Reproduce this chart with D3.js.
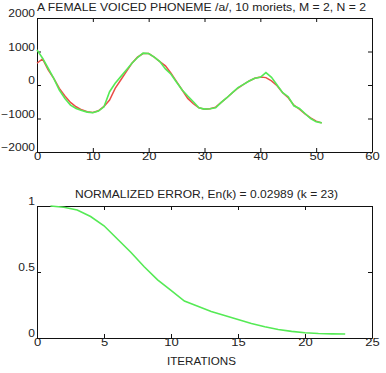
<!DOCTYPE html>
<html lang="en">
<head>
    <meta charset="UTF-8">
    <script src="https://cdnjs.cloudflare.com/ajax/libs/d3/7.8.5/d3.min.js"></script>
    <title>Phoneme moriets</title>
    <style>
        body { margin: 0; background: #fff; }
        svg text { font-family: "Liberation Sans", Arial, sans-serif; fill: #222; }
    </style>
</head>
<body>
<div id="plot"></div>
<script>
    // top panel: original signal (green) and moriet approximation (red)
    var sampleIdx = d3.range(0, 52);
    var signalVals = [1050, 800, 500, 200, -150, -400, -600, -700, -760, -810,
        -830, -780, -650, -200, 50, 250, 450, 650, 820, 950,
        940, 830, 700, 480, 320, 80, -150, -330, -500, -680,
        -720, -710, -680, -520, -380, -230, -80, 20, 120, 200,
        230, 370, 230, 0, -230, -350, -620, -700, -850, -1000,
        -1100, -1130];
    var approxVals = [650, 780, 450, 200, -100, -330, -520, -650, -740, -800,
        -820, -770, -640, -450, -100, 150, 400, 650, 830, 940,
        940, 830, 700, 570, 350, 100, -150, -400, -560, -680,
        -720, -710, -660, -520, -380, -230, -90, 20, 120, 200,
        240, 220, 120, -20, -230, -380, -600, -720, -860, -980,
        -1080, -1130];
    var topXTicks = [0, 10, 20, 30, 40, 50, 60];
    var topYTicks = [-2000, -1000, 0, 1000, 2000];

    // bottom panel: normalized error per iteration
    var iterations = d3.range(1, 24);
    var errorVals = [1.0, 0.99, 0.97, 0.92, 0.85, 0.75, 0.65, 0.54, 0.44, 0.36,
        0.28, 0.24, 0.20, 0.17, 0.14, 0.11, 0.085, 0.065, 0.05, 0.04,
        0.034, 0.031, 0.03];
    var botXTicks = [0, 5, 10, 15, 20, 25];
    var botYTicks = [0, 0.5, 1];
    var botYLabels = ["0", "0.5", "1"];

    var W = 386, H = 373;
    var svg = d3.select("#plot").append("svg")
        .attr("width", W).attr("height", H);

    // the scanned figure has wide, stretched lettering
    function stretch(sel, k) {
        sel.each(function () {
            var w = this.getComputedTextLength();
            d3.select(this).attr("textLength", w * k).attr("lengthAdjust", "spacingAndGlyphs");
        });
    }

    function panel(box, xDom, yDom, xTicks, yTicks, yFmt) {
        var x = d3.scaleLinear().domain(xDom).range([box.left, box.right]);
        var y = d3.scaleLinear().domain(yDom).range([box.bottom, box.top]);
        var g = svg.append("g");
        // bottom
        g.append("g").attr("transform", "translate(0," + box.bottom + ")")
            .call(d3.axisBottom(x).tickValues(xTicks).tickSizeInner(-4).tickSizeOuter(0).tickPadding(1))
            .call(a => a.selectAll("text").attr("font-size", 10).attr("fill", "#222").call(stretch, 1.3));
        // top mirror
        g.append("g").attr("transform", "translate(0," + box.top + ")")
            .call(d3.axisTop(x).tickValues(xTicks).tickSizeInner(-4).tickSizeOuter(0).tickFormat(""));
        // left
        g.append("g").attr("transform", "translate(" + box.left + ",0)")
            .call(d3.axisLeft(y).tickValues(yTicks).tickSizeInner(-4).tickSizeOuter(0).tickPadding(2).tickFormat(yFmt))
            .call(a => a.selectAll("text").attr("font-size", 10).attr("fill", "#222").attr("dy", "-0.12em").call(stretch, 1.2));
        // right mirror
        g.append("g").attr("transform", "translate(" + box.right + ",0)")
            .call(d3.axisRight(y).tickValues(yTicks).tickSizeInner(-4).tickSizeOuter(0).tickFormat(""));
        g.selectAll(".domain").attr("stroke", "#111");
        g.selectAll(".tick line").attr("stroke", "#111");
        return { x: x, y: y };
    }

    // top panel
    var p1 = panel({ left: 37, right: 372, top: 18, bottom: 152 }, [0, 60], [-2000, 2000],
        topXTicks, topYTicks, d3.format("d"));
    var line1 = d3.line().x((d, i) => p1.x(sampleIdx[i])).y(d => p1.y(d));
    svg.append("path").datum(approxVals).attr("d", line1)
        .attr("fill", "none").attr("stroke", "#ea4e48").attr("stroke-width", 1.5);
    svg.append("path").datum(signalVals).attr("d", line1)
        .attr("fill", "none").attr("stroke", "#55ea55").attr("stroke-width", 1.6);
    svg.append("text").attr("x", 201.5).attr("y", 11).attr("text-anchor", "middle")
        .attr("font-size", 11).attr("textLength", 329).attr("lengthAdjust", "spacingAndGlyphs")
        .text("A FEMALE VOICED PHONEME /a/, 10 moriets, M = 2, N = 2");

    // bottom panel
    var p2 = panel({ left: 37, right: 372, top: 206, bottom: 338 }, [0, 25], [0, 1],
        botXTicks, botYTicks, (d, i) => botYLabels[i]);
    var line2 = d3.line().x((d, i) => p2.x(iterations[i])).y(d => p2.y(d));
    svg.append("path").datum(errorVals).attr("d", line2)
        .attr("fill", "none").attr("stroke", "#55ea55").attr("stroke-width", 1.6);
    svg.append("text").attr("x", 206.5).attr("y", 198).attr("text-anchor", "middle")
        .attr("font-size", 11).attr("textLength", 263).attr("lengthAdjust", "spacingAndGlyphs")
        .text("NORMALIZED ERROR, En(k) = 0.02989 (k = 23)");
    svg.append("text").attr("x", 201.5).attr("y", 365).attr("text-anchor", "middle")
        .attr("font-size", 11).attr("textLength", 69).attr("lengthAdjust", "spacingAndGlyphs")
        .text("ITERATIONS");
</script>
</body>
</html>
